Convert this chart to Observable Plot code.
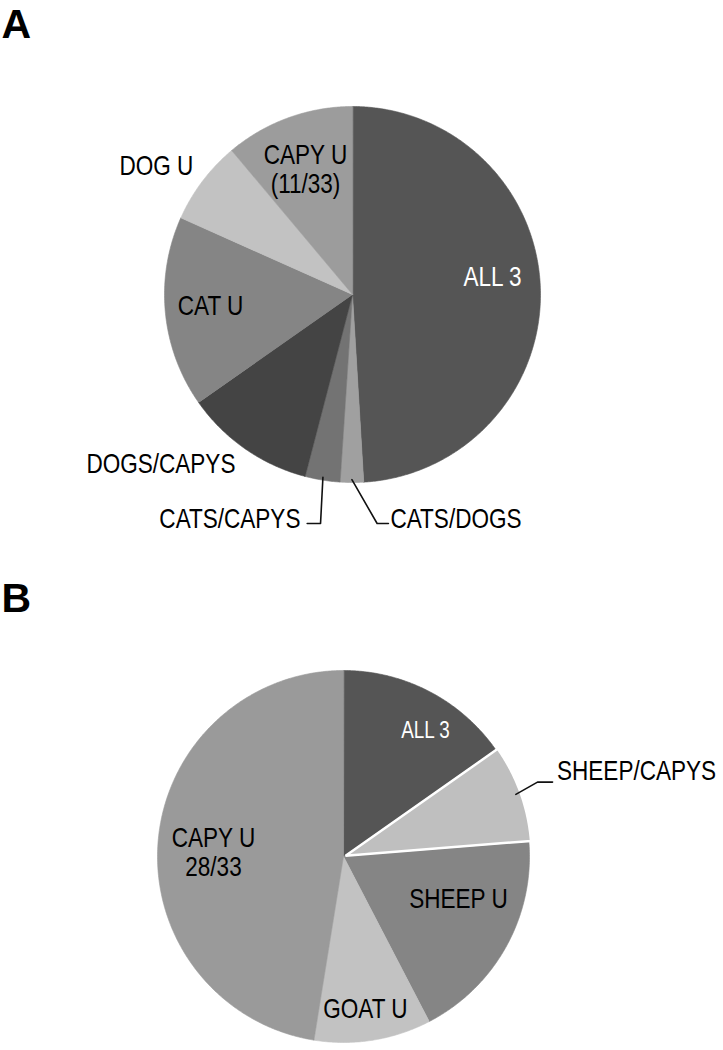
<!DOCTYPE html>
<html><head><meta charset="utf-8">
<script src="https://cdn.jsdelivr.net/npm/d3@7"></script>
<script src="https://cdn.jsdelivr.net/npm/@observablehq/plot@0.6"></script>
<style>body{margin:0;background:#fff} #chart{width:723px} svg{display:block}</style>
</head><body><div id="chart"></div>
<script>
// ---------- data ----------
const labelsA = ["ALL 3", "CATS/DOGS", "CATS/CAPYS", "DOGS/CAPYS", "CAT U", "DOG U", "CAPY U\n(11/33)"];
const valuesA = [49, 2, 3, 11.2, 16.4, 7.2, 11.1];
const coloursA = ["#555555", "#a0a0a0", "#737373", "#444444", "#858585", "#c2c2c2", "#9c9c9c"];

const labelsB = ["ALL 3", "SHEEP/CAPYS", "SHEEP U", "GOAT U", "CAPY U\n28/33"];
const valuesB = [9, 5, 11, 6, 28];
const coloursB = ["#555555", "#bfbfbf", "#858585", "#c2c2c2", "#9a9a9a"];

// ---------- layout (unit = pie radius, y up) ----------
const panelA = {letter: "A", H: 540, cx: 352, cy: 294, r: 188, letterDy: 8,
  labels: [
    {x: 0.745, y: 0.093, anchor: "middle", fill: "#fff"},
    {x: 0.202, y: -1.191, anchor: "start"},
    {x: -0.277, y: -1.191, anchor: "end"},
    {x: -1.019, y: -0.899, anchor: "middle"},
    {x: -0.755, y: -0.059, anchor: "middle"},
    {x: -1.043, y: 0.686, anchor: "middle"},
    {x: -0.250, y: 0.668, anchor: "middle"}
  ],
  leaders: {1: [[0.131, -1.218], [0.191, -1.218]], 2: [[-0.170, -1.218], [-0.241, -1.218]]},
  explode: {}
};
const panelB = {letter: "B", H: 510, cx: 343, cy: 316, r: 186, letterDy: 42,
  labels: [
    {x: 0.441, y: 0.677, anchor: "middle", fill: "#fff", size: 23},
    {x: 1.148, y: 0.460, anchor: "start"},
    {x: 0.618, y: -0.226, anchor: "middle"},
    {x: 0.118, y: -0.817, anchor: "middle"},
    {x: -0.699, y: 0.024, anchor: "middle"}
  ],
  leaders: {1: [[1.043, 0.400], [1.124, 0.400]]},
  explode: {1: 0.012}
};

const FONT = "'Liberation Sans', Arial, Helvetica, sans-serif";
const CONDENSE = 0.82;

function slices(labels, values, colours) {
  const total = d3.sum(values);
  let acc = 0;
  return labels.map((label, i) => {
    const a0 = acc / total * 2 * Math.PI;
    acc += values[i];
    const a1 = acc / total * 2 * Math.PI;
    return {label, i, a0, a1, mid: (a0 + a1) / 2, colour: colours[i]};
  });
}

function polygon(s, ex) {
  const ox = ex * Math.sin(s.mid), oy = ex * Math.cos(s.mid);
  const pts = [{x: ox, y: oy, key: s.i, colour: s.colour}];
  const n = Math.max(2, Math.ceil((s.a1 - s.a0) / (Math.PI / 360)));
  for (let k = 0; k <= n; k++) {
    const a = s.a0 + (s.a1 - s.a0) * k / n;
    pts.push({x: ox + Math.sin(a), y: oy + Math.cos(a), key: s.i, colour: s.colour});
  }
  return pts;
}

function condense(svg) {
  svg.querySelectorAll("g.condensed text").forEach(t => {
    const tr = t.getAttribute("transform");
    if (tr && tr.includes("translate")) {
      t.setAttribute("transform", tr + ` scale(${CONDENSE},1)`);
    } else {
      const x = +(t.getAttribute("x") || 0), y = +(t.getAttribute("y") || 0);
      t.removeAttribute("x"); t.removeAttribute("y");
      t.setAttribute("transform", `translate(${x},${y}) scale(${CONDENSE},1)`);
    }
  });
}

function panel(labels, values, colours, P) {
  const sl = slices(labels, values, colours);
  const plain = sl.filter(s => !(s.i in P.explode)).flatMap(s => polygon(s, 0));
  const exploded = sl.filter(s => s.i in P.explode).flatMap(s => polygon(s, P.explode[s.i]));
  const texts = sl.map(s => ({text: s.label, ...P.labels[s.i]}));
  const leaders = [];
  for (const [i, pts] of Object.entries(P.leaders)) {
    const s = sl[+i];
    leaders.push({x: 0.985 * Math.sin(s.mid), y: 0.985 * Math.cos(s.mid), key: i});
    for (const [x, y] of pts) leaders.push({x, y, key: i});
  }
  const textMark = anchor => Plot.text(texts.filter(d => d.anchor === anchor), {
    x: "x", y: "y", text: "text", textAnchor: anchor, fill: d => d.fill || "#000",
    fontSize: d => d.size || 27.5, lineHeight: 1.05, lineAnchor: "middle", fontFamily: FONT,
    className: "condensed"});
  const W = 723;
  const svg = Plot.plot({
    width: W, height: P.H, margin: 0,
    x: {domain: [-P.cx / P.r, (W - P.cx) / P.r], axis: null},
    y: {domain: [-(P.H - P.cy) / P.r, P.cy / P.r], axis: null},
    color: {type: "identity"},
    style: {fontFamily: FONT, background: "#fff"},
    marks: [
      Plot.line(plain, {x: "x", y: "y", z: "key", fill: "colour", stroke: "colour", strokeWidth: 0.6, curve: "linear-closed"}),
      Plot.line(exploded, {x: "x", y: "y", z: "key", fill: "colour", stroke: "#fff", strokeWidth: 2.5, strokeLinejoin: "miter", curve: "linear-closed"}),
      Plot.line(leaders, {x: "x", y: "y", z: "key", stroke: "#111", strokeWidth: 1.6}),
      textMark("middle"), textMark("start"), textMark("end"),
      Plot.text([P.letter], {frameAnchor: "top-left", dx: 1, dy: P.letterDy, text: d => d, lineAnchor: "top",
        fontSize: 41, fontWeight: "bold", fill: "#000", fontFamily: FONT})
    ]
  });
  condense(svg);
  return svg;
}

const chart = document.getElementById("chart");
chart.append(panel(labelsA, valuesA, coloursA, panelA));
chart.append(panel(labelsB, valuesB, coloursB, panelB));
</script>
</body></html>
